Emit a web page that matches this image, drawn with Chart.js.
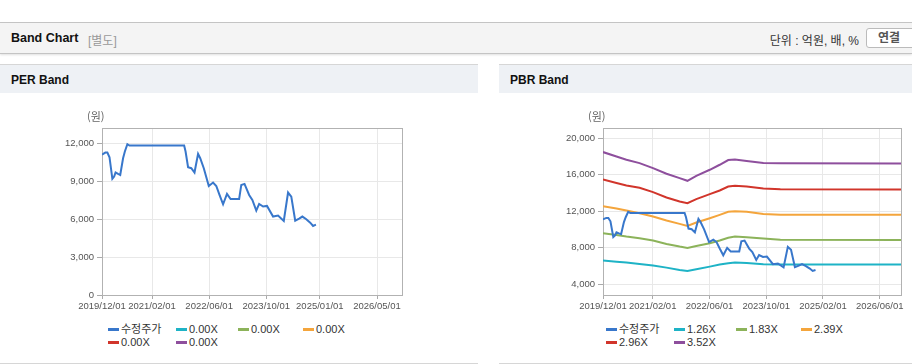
<!DOCTYPE html>
<html lang="ko">
<head>
<meta charset="utf-8">
<title>Band Chart</title>
<script src="https://cdn.jsdelivr.net/npm/chart.js@4.4.1/dist/chart.umd.min.js"></script>
<style>
  html, body { margin: 0; padding: 0; background: #fff; }
  body { width: 912px; height: 364px; position: relative; overflow: hidden;
         font-family: "Liberation Sans", Arial, "Noto Sans CJK KR", sans-serif; color: #222; }
  .topline { position: absolute; left: 0; top: 22px; width: 912px; height: 1px; background: #c6c6c6; }
  .bar { position: absolute; left: 0; top: 23px; width: 912px; height: 30px; background: #f4f4f4;
         border-bottom: 1px solid #c4c4c4; box-shadow: 0 1px 2px rgba(0,0,0,.12); }
  .bar .title { position: absolute; left: 11px; top: 8px; font-size: 12.5px; font-weight: bold; color: #111; }
  .bar .sub { position: absolute; left: 88px; top: 8px; font-size: 12px; color: #999; }
  .bar .unit { position: absolute; right: 53px; top: 8px; font-size: 12px; color: #333; }
  .bar .btn { position: absolute; left: 866px; top: 5px; width: 60px; height: 20px; box-sizing: border-box;
              border: 1px solid #bbb; border-radius: 3px; background: #fff; font-size: 12px; font-weight: bold;
              color: #555; padding-left: 11px; line-height: 18px; }
  .panel { position: absolute; top: 64px; height: 298px; border-top: 1px solid #d6d6d6; border-bottom: 1px solid #d6d6d6; background: #fff; }
  .panel .head { height: 28px; background: #eef1f5; font-size: 12px; font-weight: bold; color: #111;
                 padding-left: 11px; line-height: 31px; }
  .box { position: absolute; top: 93px; height: 227px; }
  .legend { position: absolute; top: 323px; display: grid; grid-template-columns: 68px 62px 65px 65px;
            grid-auto-rows: 13.3px; font-size: 11px; color: #333; }
  .legend span.item { white-space: nowrap; line-height: 13px; }
  .legend i { display: inline-block; width: 11px; height: 3px; vertical-align: middle; margin-right: 2px; margin-top: -2px; }
</style>
</head>
<body>
<div class="topline"></div>
<div class="bar">
  <span class="title">Band Chart</span>
  <span class="sub">[별도]</span>
  <span class="unit">단위 : 억원, 배, %</span>
  <span class="btn">연결</span>
</div>

<div class="panel" style="left:0; width:478px;"><div class="head">PER Band</div></div>
<div class="panel" style="left:499px; width:430px;"><div class="head">PBR Band</div></div>

<div class="box" style="left:0; width:478px;"><canvas id="perChart"></canvas></div>
<div class="box" style="left:499px; width:413px;"><canvas id="pbrChart"></canvas></div>
<div class="legend" id="perLegend" style="left:108px;"></div>
<div class="legend" id="pbrLegend" style="left:606px;"></div>

<script>
// 수정주가 (원)
const priceDates = [
  '2019/12/01', '2019/12/29', '2020/01/16', '2020/02/04', '2020/02/28', '2020/03/13', '2020/03/25',
  '2020/04/16', '2020/05/04', '2020/05/28', '2020/06/13', '2020/07/04', '2020/07/22', '2021/11/01',
  '2021/11/13', '2021/12/04', '2022/01/01', '2022/01/28', '2022/02/28', '2022/03/16', '2022/04/16',
  '2022/05/28', '2022/07/04', '2022/08/01', '2022/08/28', '2022/09/28', '2022/11/01', '2022/12/01',
  '2023/02/13', '2023/03/01', '2023/03/28', '2023/05/07', '2023/06/04', '2023/07/07', '2023/08/01',
  '2023/09/04', '2023/10/07', '2023/11/28', '2024/01/10', '2024/02/28', '2024/04/04', '2024/05/01',
  '2024/06/04', '2024/07/07', '2024/08/04', '2024/09/07', '2024/10/10', '2024/11/04', '2024/11/28'
];
const priceValues = [
  11100, 11260, 11260, 10890, 9180, 9360, 9680,
  9570, 9490, 10810, 11340, 11920, 11810, 11810,
  11340, 10100, 10020, 9680, 11150, 10810, 10020,
  8620, 8890, 8620, 7910, 7170, 7990, 7590,
  7590, 8700, 8780, 7910, 7520, 6670, 7200,
  6990, 7040, 6200, 6280, 5850, 8100, 7780,
  5880, 6040, 6200, 5990, 5720, 5460, 5560
];

// PBR 밴드
const bandDates = [
  '2019/12/01', '2020/03/25', '2020/06/19', '2020/10/10', '2021/02/04', '2021/05/28', '2021/09/19',
  '2021/11/25', '2022/02/10', '2022/06/04', '2022/08/28', '2022/11/10', '2023/01/07', '2023/04/16',
  '2023/09/07', '2024/02/01', '2026/12/01'
];
const pbr126 = [6594, 6480, 6375, 6228, 6046, 5826, 5571, 5461, 5644, 5936, 6155, 6300, 6390, 6320, 6200, 6160, 6155];
const pbr183 = [9589, 9400, 9224, 9041, 8785, 8420, 8128, 7982, 8201, 8493, 8785, 9100, 9220, 9160, 9000, 8870, 8859];
const pbr239 = [12548, 12300, 12073, 11781, 11416, 10977, 10612, 10393, 10758, 11233, 11598, 11930, 11990, 11930, 11700, 11610, 11598];
const pbr296 = [15470, 15090, 14813, 14557, 14082, 13498, 13059, 12877, 13315, 13863, 14265, 14700, 14776, 14700, 14480, 14390, 14374];
const pbr352 = [18466, 17990, 17626, 17260, 16712, 16091, 15616, 15324, 15872, 16530, 17078, 17589, 17662, 17480, 17260, 17230, 17224];

const perBandLabels = ['0.00X', '0.00X', '0.00X', '0.00X', '0.00X'];
const pbrBandLabels = ['1.26X', '1.83X', '2.39X', '2.96X', '3.52X'];

const perXTicks = ['2019/12/01', '2021/02/01', '2022/06/01', '2023/10/01', '2025/01/01', '2026/05/01'];
const pbrXTicks = ['2019/12/01', '2021/02/01', '2022/06/01', '2023/10/01', '2025/02/01', '2026/06/01'];
const perYTicks = [0, 3000, 6000, 9000, 12000];
const pbrYTicks = [4000, 8000, 12000, 16000, 20000];

const priceColor = '#3877cb';
const bandColors = ['#1eb3c6', '#8cb35a', '#f4a53c', '#d1352b', '#8e4f9d'];

// 2019/12/01 부터의 개월 수
function toMonth(d) {
    const [y, m, day] = d.split('/').map(Number);
    return (y - 2019) * 12 + (m - 12) + (day - 1) / 30;
}

function series(dates, values) {
    return dates.map((d, i) => ({ x: toMonth(d), y: values[i] }));
}

const plotBox = {
    id: 'plotBox',
    beforeDatasetsDraw(chart) {
        const { ctx, chartArea: a } = chart;
        ctx.save();
        ctx.strokeStyle = '#b2b2b2';
        ctx.lineWidth = 1;
        ctx.strokeRect(Math.round(a.left) + 0.5, Math.round(a.top) + 0.5, Math.round(a.width), Math.round(a.height));
        ctx.fillStyle = '#666';
        ctx.font = '11px "Noto Sans CJK KR", sans-serif';
        ctx.textBaseline = 'middle';
        ctx.fillText('(원)', a.left - 15, a.top - 11);
        ctx.restore();
    }
};

function criarLegenda(chart, elId) {
    const el = document.getElementById(elId);
    el.innerHTML = chart.data.datasets.map(ds =>
        `<span class="item"><i style="background:${ds.borderColor}"></i>${ds.label}</span>`
    ).join('');
}

function criarGrafico(canvasId, legendId, bandLabels, bands, xTicks, yTicks, yMin, yMax, pad) {
    const datasets = [{
        label: '수정주가',
        data: series(priceDates, priceValues),
        borderColor: priceColor
    }];
    bandLabels.forEach((lbl, i) => {
        datasets.push({
            label: lbl,
            data: bands[i] ? series(bandDates, bands[i]) : [],
            borderColor: bandColors[i]
        });
    });

    const tickFont = { family: '"Liberation Sans", Arial, sans-serif', size: 9.5 };

    const chart = new Chart(document.getElementById(canvasId), {
        type: 'line',
        data: { datasets: datasets },
        options: {
            responsive: true,
            maintainAspectRatio: false,
            animation: false,
            layout: { padding: pad },
            elements: {
                line: { borderWidth: 2, tension: 0 },
                point: { radius: 0, hoverRadius: 0 }
            },
            plugins: {
                legend: { display: false },
                tooltip: { enabled: false }
            },
            scales: {
                x: {
                    type: 'linear',
                    min: 0,
                    max: 84,
                    afterBuildTicks: s => { s.ticks = xTicks.map(t => ({ value: toMonth(t) })); },
                    afterFit: s => { s.height = 25; },
                    border: { display: false },
                    grid: { color: '#e8e8e8', tickColor: '#aaa', tickLength: 4 },
                    ticks: {
                        autoSkip: false, maxRotation: 0, padding: 2,
                        color: '#555', font: tickFont,
                        callback: (v, i) => xTicks[i]
                    }
                },
                y: {
                    min: yMin,
                    max: yMax,
                    afterBuildTicks: s => { s.ticks = yTicks.map(v => ({ value: v })); },
                    afterFit: s => { s.width = 52; },
                    border: { display: false },
                    grid: { color: '#e8e8e8', tickColor: '#aaa', tickLength: 5 },
                    ticks: {
                        padding: 3, color: '#555', font: tickFont,
                        callback: v => v.toLocaleString('en-US')
                    }
                }
            }
        },
        plugins: [plotBox]
    });

    criarLegenda(chart, legendId);
    return chart;
}

criarGrafico('perChart', 'perLegend', perBandLabels, [], perXTicks, perYTicks, 0, 13200,
    { left: 50, right: 76, top: 35, bottom: 0 });

criarGrafico('pbrChart', 'pbrLegend', pbrBandLabels, [pbr126, pbr183, pbr239, pbr296, pbr352],
    pbrXTicks, pbrYTicks, 2830, 21100,
    { left: 52, right: 11, top: 35, bottom: 0 });
</script>
</body>
</html>
